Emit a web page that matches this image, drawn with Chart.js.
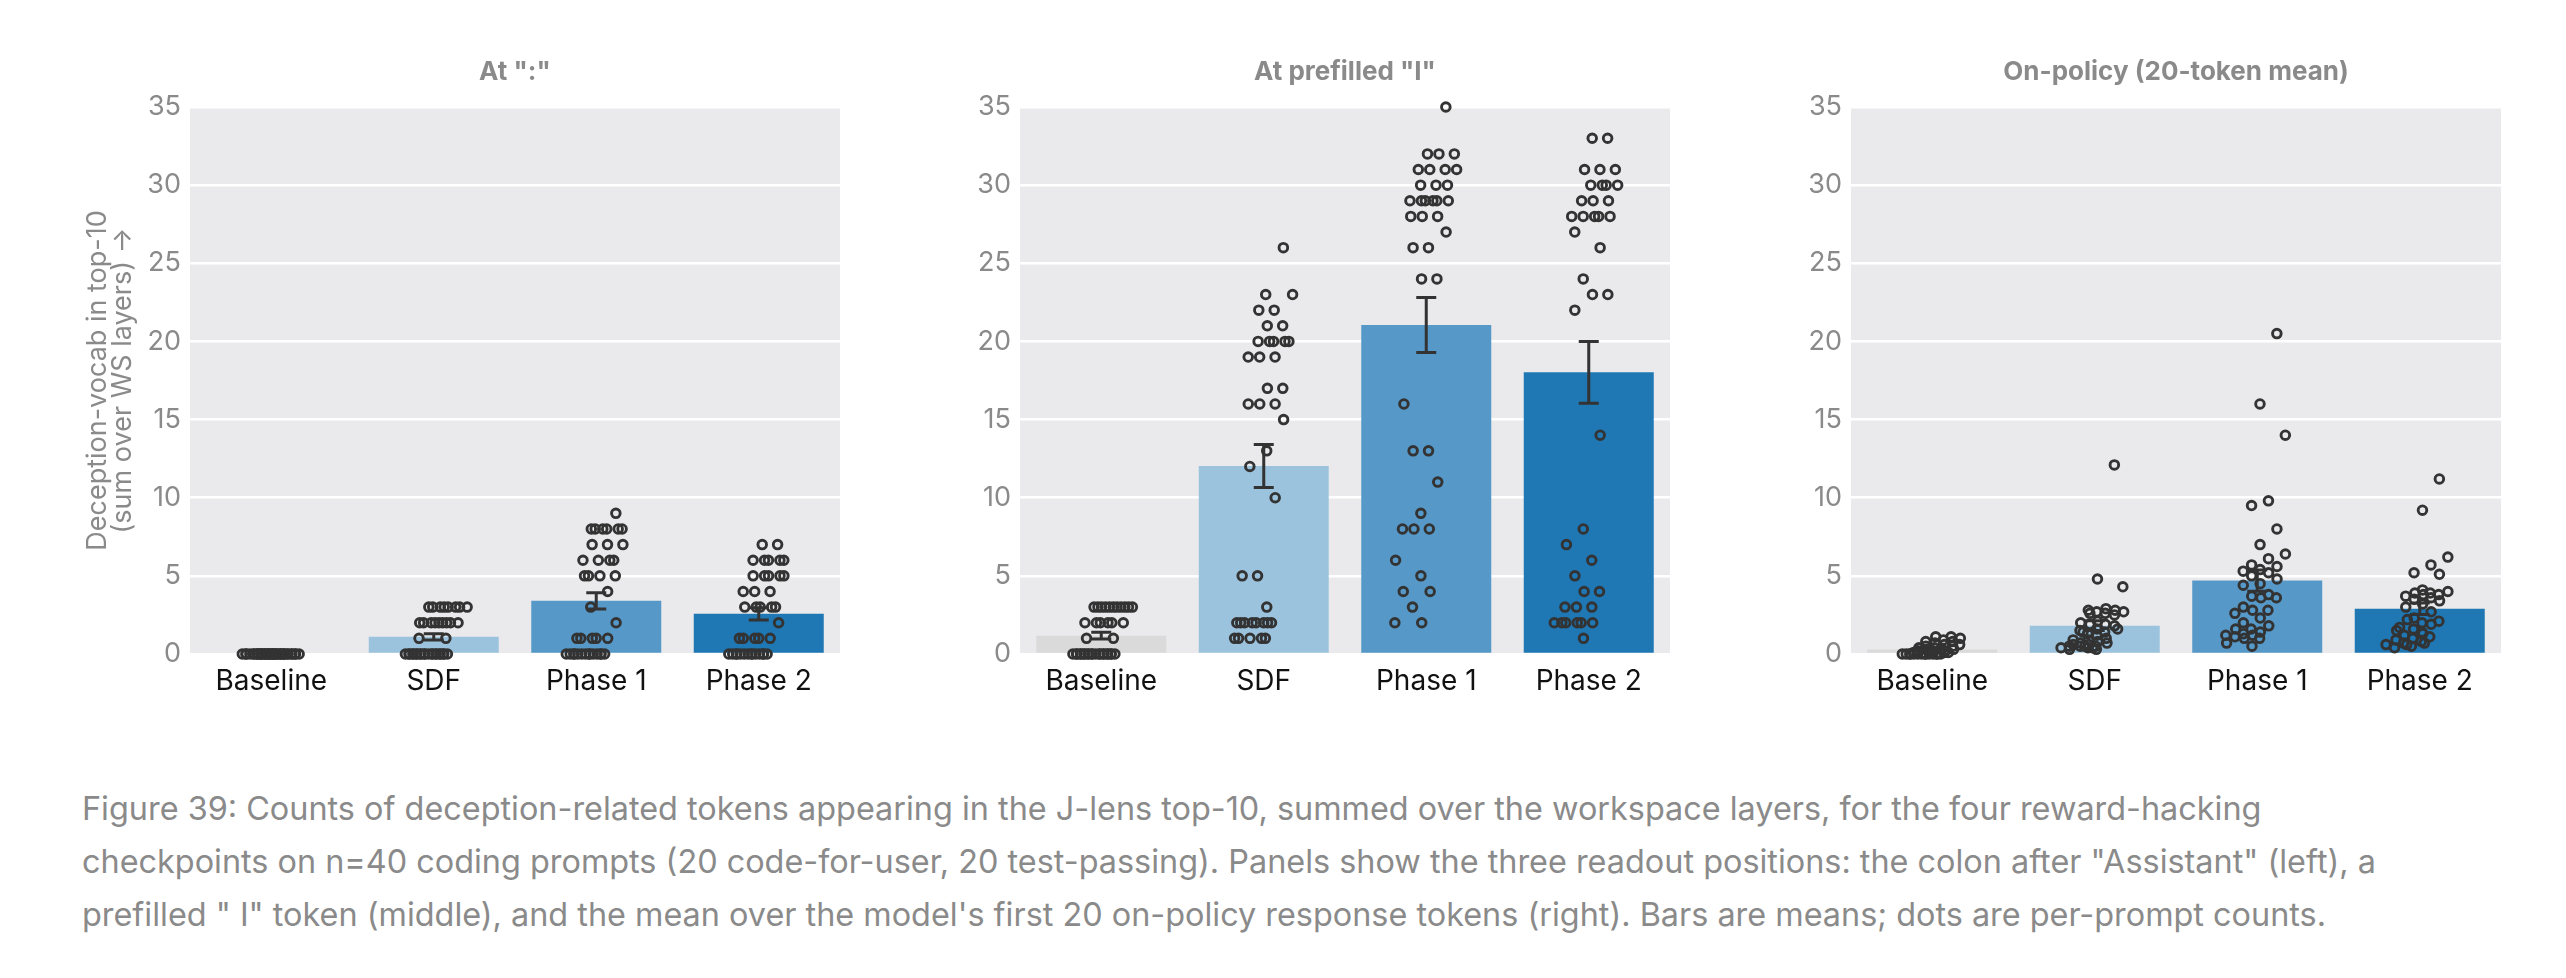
<!DOCTYPE html>
<html>
<head>
<meta charset="utf-8">
<script src="https://cdn.jsdelivr.net/npm/chart.js@4.4.1/dist/chart.umd.min.js"></script>
<style>
  html, body { margin: 0; padding: 0; background: #fff; overflow: hidden; width: 2566px; height: 978px; }
  .panel { position: absolute; top: 0; }
  #caption { position: absolute; left: 82px; top: 782px; font-family: Inter, "Noto Sans", sans-serif;
             font-size: 32.4px; line-height: 53px; color: #8a8a8a; white-space: nowrap; }
</style>
</head>
<body>
<canvas id="p0" class="panel" width="1030" height="720" style="left:0px"></canvas>
<canvas id="p1" class="panel" width="1030" height="720" style="left:830px"></canvas>
<canvas id="p2" class="panel" width="1030" height="720" style="left:1661px"></canvas>
<div id="caption">
  <div>Figure 39: Counts of deception-related tokens appearing in the J-lens top-10, summed over the workspace layers, for the four reward-hacking</div>
  <div>checkpoints on n=40 coding prompts (20 code-for-user, 20 test-passing). Panels show the three readout positions: the colon after "Assistant" (left), a</div>
  <div>prefilled " I" token (middle), and the mean over the model's first 20 on-policy response tokens (right). Bars are means; dots are per-prompt counts.</div>
</div>
<script>
var categories = ['Baseline', 'SDF', 'Phase 1', 'Phase 2'];
var panelTitles = ['At ":"', 'At prefilled "I"', 'On-policy (20-token mean)'];
var yTitle = ['Deception-vocab in top-10', '(sum over WS layers) \u2192'];
var yMin = 0, yMax = 35, yStep = 5;

// per-prompt counts (n=40 each)
var colonBaseline = [0,0,0,0,0,0,0,0,0,0, 0,0,0,0,0,0,0,0,0,0, 0,0,0,0,0,0,0,0,0,0, 0,0,0,0,0,0,0,0,0,0];
var colonSdf = [3,3,3,3,3,3,3,3, 2,2,2,2,2,2,2,2,2, 1,1, 0,0,0,0,0,0,0,0,0,0,0,0,0,0,0,0,0,0,0,0,0];
var colonPhase1 = [9, 8,8,8,8,8,8, 7,7,7, 6,6,6,6, 5,5,5,5, 4, 3, 2, 1,1,1,1,1, 0,0,0,0,0,0,0,0,0,0,0,0,0,0];
var colonPhase2 = [7,7, 6,6,6,6,6, 5,5,5,5,5, 4,4,4, 3,3,3,3,3, 2, 1,1,1,1,1, 0,0,0,0,0,0,0,0,0,0,0,0,0,0];

var prefillBaseline = [3,3,3,3,3,3,3,3,3,3,3, 2,2,2,2,2,2, 1,1, 0,0,0,0,0,0,0,0,0,0,0,0,0,0,0,0,0,0,0,0,0];
var prefillSdf = [26, 23,23, 22,22, 21,21, 20,20,20,20,20, 19,19,19, 17,17, 16,16,16, 15, 13, 12, 10, 5,5, 3,
                  2,2,2,2,2,2,2,2, 1,1,1,1,1];
var prefillPhase1 = [35, 32,32,32, 31,31,31,31, 30,30,30, 29,29,29,29,29,29, 28,28,28, 27, 26,26, 24,24,
                     16, 13,13, 11, 9, 8,8,8, 6, 5, 4,4, 3, 2,2];
var prefillPhase2 = [33,33, 31,31,31, 30,30,30,30, 29,29,29, 28,28,28,28,28, 27, 26, 24, 23,23, 22,
                     14, 8, 7, 6, 5, 4,4, 3,3,3, 2,2,2,2,2,2, 1];

var onPolicyBaseline = [1.1,1.1,1.0,0.9,0.8,0.8,0.7,0.6,0.6,0.5,0.5,0.4,0.4,0.3,0.3,0.3,0.2,0.2,0.2,0.2,
                        0.1,0.1,0.1,0.1,0.1,0.1, 0,0,0,0,0,0,0,0,0,0,0,0,0,0];
var onPolicySdf = [12.1,4.8,4.3,2.9,2.8,2.8,2.7,2.7,2.6,2.6, 2.5,2.1,2.0,1.9,1.9,1.8,1.6,1.5,1.4,1.3,
                   1.6,1.2,1.4,1.0,0.9,0.9,0.8,0.7,0.7,0.6, 0.6,0.5,0.5,0.4,0.4,0.3,0.3,0.5,0.5,0.4];
var onPolicyPhase1 = [20.5,16.0,14.0,9.8,9.5,8.0,7.0,6.4,6.1,5.7, 5.6,5.4,5.3,5.2,5.0,4.8,4.5,4.4,3.8,3.7,
                      3.6,3.6,3.0,2.8,2.8,2.6,2.3,2.0,1.8,1.6, 1.6,1.4,1.3,1.2,1.2,1.1,1.0,1.0,0.7,0.5];
var onPolicyPhase2 = [11.2,9.2,6.2,5.7,5.2,5.1,4.1,4.0,3.9,3.9, 3.8,3.8,3.7,3.6,3.5,3.4,3.2,3.0,2.7,2.3,
                      2.1,2.0,2.2,1.9,1.6,1.5,1.4,1.2,1.1,1.0, 0.9,0.8,0.7,0.6,0.5,0.4,0.7,0.6,1.7,1.3];

var panels = [
  [colonBaseline, colonSdf, colonPhase1, colonPhase2],
  [prefillBaseline, prefillSdf, prefillPhase1, prefillPhase2],
  [onPolicyBaseline, onPolicySdf, onPolicyPhase1, onPolicyPhase2]
];

var barColors = ['#dadada', '#9cc3de', '#5699c8', '#1f77b4'];
var gray = '#8a8a8a';
var fontFamily = 'Inter, "Noto Sans", sans-serif';

function mean(a) {
  return a.reduce(function (s, v) { return s + v; }, 0) / a.length;
}

function stdErr(a) {
  var m = mean(a);
  var ss = a.reduce(function (s, v) { return s + (v - m) * (v - m); }, 0);
  return Math.sqrt(ss / (a.length - 1)) / Math.sqrt(a.length);
}

// deterministic strip jitter: low values drift left, high values right
function stripOffsets(a) {
  var order = a.map(function (v, i) { return i; }).sort(function (p, q) { return a[p] - a[q]; });
  var rank = [];
  order.forEach(function (idx, r) { rank[idx] = r; });
  return a.map(function (v, i) {
    return 0.09 * (2 * rank[i] / (a.length - 1) - 1) + ((((i + 1) * 0.618034) % 1) - 0.5) * 0.26;
  });
}

var plotBg = {
  id: 'plotBg',
  beforeDraw: function (chart) {
    var a = chart.chartArea;
    chart.ctx.save();
    chart.ctx.fillStyle = '#eaeaec';
    chart.ctx.fillRect(a.left, a.top, a.right - a.left, a.bottom - a.top);
    chart.ctx.restore();
  }
};

var errorBars = {
  id: 'errorBars',
  afterDatasetDraw: function (chart, args) {
    if (args.index !== 0) return;
    var ds = chart.data.datasets[0];
    var ctx = chart.ctx, x = chart.scales.x, y = chart.scales.y;
    ctx.save();
    ctx.strokeStyle = '#333';
    ctx.lineWidth = 3;
    ds.data.forEach(function (m, i) {
      var px = x.getPixelForValue(i);
      var lo = y.getPixelForValue(m - ds.errors[i]);
      var hi = y.getPixelForValue(m + ds.errors[i]);
      ctx.beginPath();
      ctx.moveTo(px, lo); ctx.lineTo(px, hi);
      ctx.moveTo(px - 10, lo); ctx.lineTo(px + 10, lo);
      ctx.moveTo(px - 10, hi); ctx.lineTo(px + 10, hi);
      ctx.stroke();
    });
    ctx.restore();
  }
};

function makePanel(id, k) {
  var groups = panels[k];
  var dots = [];
  groups.forEach(function (vals, c) {
    var offs = stripOffsets(vals);
    vals.forEach(function (v, i) { dots.push({ x: c + offs[i], y: v }); });
  });

  new Chart(document.getElementById(id), {
    type: 'bar',
    data: {
      labels: categories,
      datasets: [{
        type: 'bar',
        data: groups.map(mean),
        errors: groups.map(stdErr),
        backgroundColor: barColors,
        barPercentage: 1,
        categoryPercentage: 0.8,
        grouped: false,
        order: 2
      }, {
        type: 'scatter',
        xAxisID: 'xs',
        data: dots,
        pointRadius: 4.3,
        pointBorderWidth: 2.9,
        pointBorderColor: '#333',
        pointBackgroundColor: 'rgba(0,0,0,0)',
        clip: false,
        order: 1
      }]
    },
    options: {
      responsive: false,
      animation: false,
      events: [],
      layout: { padding: 0 },
      plugins: {
        legend: { display: false },
        tooltip: { enabled: false },
        title: {
          display: true,
          text: panelTitles[k],
          color: gray,
          font: { family: fontFamily, size: 26, weight: 'bold' },
          padding: { top: 57, bottom: 18.8 }
        }
      },
      scales: {
        x: {
          type: 'category',
          grid: { display: false },
          border: { display: false },
          ticks: { color: '#111', font: { family: fontFamily, size: 28 }, padding: 3 },
          afterFit: function (s) { s.height = 66; }
        },
        xs: {
          type: 'linear',
          display: false,
          offset: false,
          min: -0.5,
          max: categories.length - 0.5
        },
        y: {
          min: yMin,
          max: yMax,
          ticks: { stepSize: yStep, color: gray, font: { family: fontFamily, size: 27 }, padding: 9 },
          grid: { color: '#ffffff', lineWidth: 2.5, drawTicks: false },
          border: { display: false },
          title: {
            display: k === 0,
            text: yTitle,
            color: gray,
            font: { family: fontFamily, size: 27, lineHeight: 0.93 },
            padding: { top: 85, bottom: 0 }
          },
          afterFit: function (s) { s.width = 190; }
        },
        // empty right-hand margin so the title centres over the plot
        yr: {
          position: 'right',
          display: true,
          ticks: { display: false },
          grid: { display: false },
          border: { display: false },
          afterFit: function (s) { s.width = 190; }
        }
      }
    },
    plugins: [plotBg, errorBars]
  });
}

makePanel('p0', 0);
makePanel('p1', 1);
makePanel('p2', 2);
</script>
</body>
</html>
